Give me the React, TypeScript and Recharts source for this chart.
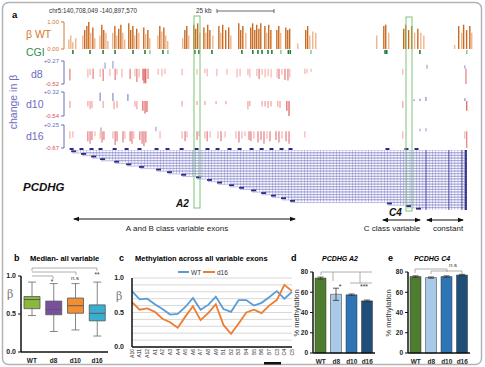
import React from "react";
import {
  BarChart,
  Bar,
  ComposedChart,
  LineChart,
  Line,
  XAxis,
  YAxis,
  CartesianGrid,
  Cell,
  ErrorBar,
  ReferenceLine,
} from "recharts";

const FONT = "'Liberation Sans', Arial, sans-serif";

// ---- panel a: positions in kb from chr5:140,708,049 ----
const wtTrack: [number, number][] = [
  [0.5, 0.35], [1.4, 0.5], [2.3, 0.25], [3.7, 0.4],
  [7.0, 0.5], [7.9, 0.7], [8.9, 0.85], [9.8, 1.0], [10.7, 0.6], [11.7, 0.8], [12.6, 0.4],
  [15.0, 0.5], [15.9, 0.9], [16.8, 0.7], [17.8, 0.6], [18.7, 0.3],
  [21.0, 0.6], [22.0, 0.85], [22.9, 0.5], [23.8, 0.75], [24.8, 0.9], [25.7, 0.6], [26.6, 0.35],
  [28.5, 0.95], [29.4, 0.7], [30.4, 0.85], [31.3, 0.5], [32.2, 0.75], [33.2, 0.6],
  [35.5, 0.8], [36.4, 0.55], [37.4, 0.7], [38.3, 0.4],
  [42.1, 0.5], [43.0, 0.85], [43.9, 0.65], [44.9, 0.8], [45.8, 0.5], [46.7, 0.3],
  [53.7, 0.4], [54.7, 0.7], [55.6, 0.85], [56.5, 0.5],
  [58.9, 0.9], [59.8, 0.75], [60.7, 0.95], [61.7, 0.6],
  [63.6, 0.8], [64.5, 0.6], [65.4, 0.9], [66.4, 0.7], [67.8, 0.5],
  [70.6, 0.85], [71.5, 0.6], [72.4, 0.9], [73.8, 0.7], [75.2, 0.8], [76.2, 0.5],
  [79.9, 0.95], [80.8, 0.7], [81.8, 0.85], [83.2, 0.6],
  [85.5, 0.8], [86.4, 0.95], [87.4, 0.7], [88.3, 0.9], [89.3, 0.75], [90.2, 0.95],
  [92.1, 0.85], [93.0, 0.6], [93.9, 0.9], [94.9, 0.7],
  [97.7, 0.7], [98.6, 0.85], [99.5, 0.6],
  [101.9, 0.8], [102.8, 0.7], [103.7, 0.75],
  [107.5, 0.2],
  [111.2, 0.7], [112.1, 0.85], [113.1, 0.5], [114.5, 0.65], [115.9, 0.6],
  [144.4, 0.5], [147.7, 0.85], [148.6, 0.9], [150.0, 0.6],
  [157.0, 0.75], [157.9, 0.9], [159.3, 0.7], [160.7, 0.85], [162.1, 0.6], [163.6, 0.75], [165.0, 0.6], [166.4, 0.5],
  [180.8, 0.15], [182.7, 0.85], [184.1, 0.6], [185.0, 0.9], [186.4, 0.7], [187.9, 0.85], [188.8, 0.6],
];

// CpG islands: position, 1 = strong
const cgiTrack: [number, number][] = [
  [2.3, 1], [10.3, 1], [16.4, 1], [22.0, 1], [30.4, 1], [36.0, 1], [38.3, 0],
  [44.4, 1], [46.7, 0], [59.3, 1], [61.2, 1], [67.3, 1], [81.3, 1], [86.4, 1],
  [88.8, 1], [90.7, 1], [93.5, 1], [95.3, 1], [99.5, 0], [103.0, 1], [103.9, 1],
  [113.6, 0], [148.2, 1], [149.0, 1], [164.5, 1], [186.4, 0],
];

const d8Track: [number, number][] = [
  [0.9, -0.4], [9.3, -0.3], [10.3, -0.22], [11.7, -0.35], [15.0, -0.28], [16.4, -0.42],
  [17.3, 0.22], [19.6, -0.25], [21.0, 0.27], [22.0, -0.38], [22.9, -0.2], [25.2, -0.3],
  [29.0, -0.35], [31.3, -0.25], [32.2, -0.45], [33.2, -0.3], [35.0, -0.4], [35.5, -0.5],
  [36.0, -0.48], [36.4, -0.5], [37.4, -0.35], [42.1, -0.2], [43.9, -0.25], [45.3, -0.18],
  [53.3, -0.22], [60.3, -0.2], [64.0, -0.15], [65.0, -0.25], [69.6, -0.25], [74.3, -0.2],
  [79.0, -0.3], [80.4, -0.25], [84.1, -0.22], [85.0, -0.3], [88.3, -0.25], [89.3, -0.35],
  [90.7, -0.2], [92.1, -0.3], [93.5, -0.25], [94.9, -0.3], [97.7, -0.3], [98.6, -0.35],
  [100.0, -0.2], [101.4, -0.38], [102.8, -0.4], [103.7, -0.3], [110.7, -0.18], [111.7, -0.15],
  [113.6, -0.1], [156.5, -0.2], [167.8, 0.14], [185.5, 0.12], [186.0, -0.52],
];

const d10Track: [number, number][] = [
  [0.9, -0.25], [9.3, -0.2], [10.3, -0.3], [11.2, -0.25], [15.0, 0.3], [16.4, -0.25],
  [21.0, 0.28], [21.5, -0.3], [22.9, -0.25], [28.0, 0.25], [31.3, -0.2], [32.2, -0.3],
  [35.0, -0.35], [36.0, -0.45], [36.9, -0.4], [53.3, -0.2], [60.3, -0.15], [64.0, -0.15],
  [69.2, -0.12], [73.8, -0.12], [84.1, -0.3], [85.0, -0.18], [90.7, -0.2], [92.1, -0.2],
  [93.5, -0.25], [94.9, -0.2], [98.1, -0.2], [99.1, -0.25], [102.3, -0.35], [103.3, -0.54],
  [156.5, -0.25], [161.7, 0.05], [164.5, 0.08], [167.3, 0.14], [185.5, 0.1], [186.4, -0.35],
];

const d16Track: [number, number][] = [
  [0.9, -0.3], [2.3, -0.25], [9.3, -0.4], [10.3, -0.5], [11.2, -0.35], [12.6, -0.2],
  [15.0, -0.3], [15.4, 0.15], [15.9, -0.45], [16.8, -0.35], [21.0, -0.3], [22.0, -0.55],
  [22.9, -0.4], [25.7, -0.45], [26.6, -0.3], [29.0, -0.4], [29.9, -0.5], [30.8, -0.3],
  [33.6, -0.35], [34.6, -0.5], [35.5, -0.6], [36.4, -0.45], [41.1, 0.18], [43.0, -0.3],
  [53.3, -0.3], [54.7, -0.4], [55.6, -0.25], [60.3, -0.35], [61.2, -0.2], [64.0, -0.3],
  [65.0, -0.4], [66.4, -0.25], [70.1, -0.3], [71.5, -0.4], [73.4, -0.25], [78.5, -0.3],
  [79.9, -0.45], [81.3, -0.3], [82.7, -0.2], [84.6, -0.35], [85.5, -0.4], [86.9, -0.3],
  [88.8, -0.45], [90.2, -0.35], [91.6, -0.5], [93.0, -0.3], [94.4, -0.4], [97.2, -0.35],
  [98.6, -0.45], [100.0, -0.3], [101.9, -0.4], [103.3, -0.5], [110.7, -0.25], [156.5, -0.3],
  [164.5, 0.1], [167.3, 0.12], [185.5, -0.3], [186.4, -0.67],
];

const exonNames = [
  "A1", "A2", "A3", "B1", "A4", "B2", "A5", "A6", "B3", "A7", "B4", "A8",
  "B5", "A9", "B6", "A10", "B7", "A11", "B8", "A12", "C3", "C4", "C5",
];
const exonStarts = [
  1.9, 6.5, 11.2, 15.4, 22.0, 27.6, 33.6, 41.6, 46.7, 53.3, 60.3, 65.4,
  70.1, 75.7, 80.4, 86.0, 90.7, 95.3, 100.0, 104.2, 149.5, 158.4, 163.1,
];
const geneEnd = 186.4;
const constantExons = [167.3, 178.0, 184.1];

// ---- panel b ----
const groups = ["WT", "d8", "d10", "d16"];
const boxMin = [0.48, 0.27, 0.29, 0.21];
const boxQ1 = [0.57, 0.49, 0.51, 0.41];
const boxMed = [0.69, 0.56, 0.61, 0.51];
const boxQ3 = [0.73, 0.67, 0.71, 0.62];
const boxMax = [0.92, 0.9, 0.9, 0.92];
const boxColors = ["#8db83f", "#7a4fa0", "#f28f35", "#3aaed0"];

// ---- panel c ----
const exonLabels = [
  "A10", "A11", "A12", "A1", "A2", "A3", "A4", "A5", "A6", "A7", "A8",
  "A9", "B1", "B2", "B3", "B4", "B5", "B6", "B7", "C3", "C4", "C5",
];
const wtExon = [0.81, 0.69, 0.7, 0.62, 0.55, 0.47, 0.48, 0.58, 0.71, 0.54, 0.61, 0.73, 0.55, 0.51, 0.68, 0.68, 0.6, 0.64, 0.72, 0.81, 0.7, 0.8];
const d16Exon = [0.65, 0.54, 0.56, 0.51, 0.41, 0.36, 0.28, 0.44, 0.59, 0.39, 0.49, 0.62, 0.32, 0.19, 0.34, 0.5, 0.54, 0.49, 0.6, 0.68, 0.9, 0.81];

// ---- panels d, e ----
const a2Mean = [74, 58, 57.5, 51.5];
const a2Err = [1, 6, 0.8, 0.8];
const c4Mean = [75.5, 74.5, 75.5, 77];
const c4Err = [0.7, 0.6, 0.7, 0.7];
const barColors = ["#4f7d2f", "#a9c9e8", "#2f75b5", "#1f4e79"];

const XDOM: [number, number] = [-1.9, 190.2];
const BLUE = "#6c6cbc";
const ORANGE = "#d4792f";
const MESH = "#8484cc";
const EXON = "#2c2c80";

function Track({
  data, top, h, domain, labels, axisColor, colorOf, barSize,
}: {
  data: [number, number][];
  top: number;
  h: number;
  domain: [number, number];
  labels: { text: string; color: string }[];
  axisColor: string;
  colorOf: (v: number) => string;
  barSize: number;
}) {
  const rows = data.map(([pos, v]) => ({ pos, v }));
  return (
    <div style={{ position: "absolute", left: 36, top: top - 4 }}>
      <BarChart width={439} height={h + 8} data={rows} margin={{ top: 4, right: 0, bottom: 4, left: 0 }}>
        <XAxis type="number" dataKey="pos" domain={XDOM} hide allowDataOverflow />
        <YAxis
          width={28}
          domain={domain}
          allowDataOverflow
          ticks={[domain[1], domain[0]]}
          interval={0}
          axisLine={{ stroke: axisColor }}
          tickLine={{ stroke: axisColor }}
          tickSize={3}
          tick={(p: any) => {
            const lab = p.payload.value === domain[1] ? labels[0] : labels[1];
            return (
              <text x={p.x} y={p.y + 2} textAnchor="end" fontSize={6} fill={lab.color} fontFamily={FONT}>
                {lab.text}
              </text>
            );
          }}
        />
        <Bar dataKey="v" barSize={barSize} isAnimationActive={false}>
          {rows.map((r, i) => (
            <Cell key={i} fill={colorOf(r.v)} />
          ))}
        </Bar>
      </BarChart>
    </div>
  );
}

const changeColor = (v: number) => (v > 0 ? BLUE : v < -0.3 ? "#d63434" : "#f08a8a");

function GeneRow(props: any) {
  const { x, y, width, height } = props;
  return (
    <g>
      <rect x={x} y={y} width={width} height={height} fill="url(#mesh)" />
      <line x1={x} x2={x + width} y1={y} y2={y} stroke={MESH} strokeWidth={0.5} />
      <line x1={x} x2={x + width} y1={y + height} y2={y + height} stroke={MESH} strokeWidth={0.5} />
      <rect x={x - 1} y={y + 0.4} width={5} height={1.8} fill={EXON} />
      <rect x={x + width - 2} y={y} width={2} height={height} fill={EXON} />
    </g>
  );
}

function Whisker(props: any, low: boolean) {
  const { x, y, width, height } = props;
  const cx = x + width / 2;
  const cap = low ? y + height : y;
  return (
    <g stroke="#666" strokeWidth={0.8}>
      <line x1={cx} x2={cx} y1={y} y2={y + height} />
      <line x1={cx - 4} x2={cx + 4} y1={cap} y2={cap} />
    </g>
  );
}

const boldTick = { fontSize: 6.5, fill: "#222", fontWeight: 700, fontFamily: FONT };

function MethBars({ left, mean, err }: { left: number; mean: number[]; err: number[] }) {
  const rows = groups.map((g, i) => ({ g, m: mean[i], e: err[i] }));
  return (
    <div style={{ position: "absolute", left, top: 266 }}>
      <BarChart width={82} height={101} data={rows} margin={{ top: 6, right: 0, bottom: 0, left: 0 }}>
        <XAxis dataKey="g" height={14} tick={boldTick} tickLine={false} tickSize={4} axisLine={{ stroke: "#111", strokeWidth: 1.5 }} interval={0} />
        <YAxis width={20} domain={[0, 80]} ticks={[0, 20, 40, 60, 80]} interval={0} tick={boldTick} tickSize={3} tickLine={{ stroke: "#111" }} axisLine={{ stroke: "#111", strokeWidth: 1.5 }} />
        <Bar dataKey="m" barSize={11} stroke="#333" strokeWidth={0.5} isAnimationActive={false}>
          {rows.map((r, i) => (
            <Cell key={i} fill={barColors[i]} />
          ))}
          <ErrorBar dataKey="e" width={3} stroke="#333" strokeWidth={0.8} direction="y" />
        </Bar>
      </BarChart>
    </div>
  );
}

export default function App() {
  const geneRows = exonNames.map((name, i) => ({ name, span: [exonStarts[i], geneEnd] }));
  const exonMarks = exonStarts.map((pos) => ({ pos, v: 1 }));
  const cgiRows = cgiTrack.map(([pos, s]) => ({ pos, v: 1, s }));
  const boxRows = groups.map((g, i) => ({
    g,
    base: boxMin[i],
    lo: boxQ1[i] - boxMin[i],
    b1: boxMed[i] - boxQ1[i],
    b2: boxQ3[i] - boxMed[i],
    hi: boxMax[i] - boxQ3[i],
  }));
  const lineRows = exonLabels.map((e, i) => ({ e, wt: wtExon[i], d16: d16Exon[i] }));

  return (
    <div style={{ position: "fixed", left: 0, top: 0, width: 485, height: 367, background: "#fff", overflow: "hidden", fontFamily: FONT }}>
      <svg width={0} height={0} style={{ position: "absolute" }}>
        <defs>
          <pattern id="mesh" patternUnits="userSpaceOnUse" width={3.2} height={10}>
            <line x1={0.3} y1={0} x2={0.3} y2={10} stroke={MESH} strokeWidth={0.5} />
          </pattern>
        </defs>
      </svg>

      {/* panel a tracks */}
      <Track
        data={wtTrack}
        top={22}
        h={27}
        domain={[0, 1]}
        labels={[{ text: "1.00", color: ORANGE }, { text: "0.00", color: ORANGE }]}
        axisColor={ORANGE}
        colorOf={(v) => (v >= 0.7 ? "#c96a22" : "#f0b48a")}
        barSize={1.4}
      />
      <div style={{ position: "absolute", left: 64, top: 50 }}>
        <BarChart width={411} height={4} data={cgiRows} margin={{ top: 0, right: 0, bottom: 0, left: 0 }}>
          <XAxis type="number" dataKey="pos" domain={XDOM} hide allowDataOverflow />
          <YAxis domain={[0, 1]} hide />
          <Bar dataKey="v" barSize={2.2} isAnimationActive={false}>
            {cgiRows.map((r, i) => (
              <Cell key={i} fill={r.s ? "#1d7a3e" : "#8cc99a"} />
            ))}
          </Bar>
        </BarChart>
      </div>
      <Track
        data={d8Track}
        top={61}
        h={23}
        domain={[-0.52, 0.27]}
        labels={[{ text: "+0.27", color: BLUE }, { text: "-0.52", color: "#d85050" }]}
        axisColor={BLUE}
        colorOf={changeColor}
        barSize={1.4}
      />
      <Track
        data={d10Track}
        top={92}
        h={24}
        domain={[-0.54, 0.32]}
        labels={[{ text: "+0.32", color: BLUE }, { text: "-0.54", color: "#d85050" }]}
        axisColor={BLUE}
        colorOf={changeColor}
        barSize={1.4}
      />
      <Track
        data={d16Track}
        top={125}
        h={23}
        domain={[-0.67, 0.25]}
        labels={[{ text: "+0.25", color: BLUE }, { text: "-0.67", color: "#d85050" }]}
        axisColor={BLUE}
        colorOf={changeColor}
        barSize={1.4}
      />

      {/* gene model */}
      <div style={{ position: "absolute", left: 64, top: 150 }}>
        <ComposedChart layout="vertical" width={411} height={60} data={geneRows} margin={{ top: 0, right: 0, bottom: 0, left: 0 }} barCategoryGap={0}>
          <XAxis type="number" domain={XDOM} hide allowDataOverflow />
          <YAxis type="category" dataKey="name" hide />
          <Bar dataKey="span" isAnimationActive={false} shape={GeneRow} />
          {constantExons.map((c) => (
            <ReferenceLine key={c} x={c} stroke="#3a3a90" strokeWidth={0.8} />
          ))}
        </ComposedChart>
      </div>
      <div style={{ position: "absolute", left: 64, top: 148 }}>
        <BarChart width={411} height={2} data={exonMarks} margin={{ top: 0, right: 0, bottom: 0, left: 0 }}>
          <XAxis type="number" dataKey="pos" domain={XDOM} hide allowDataOverflow />
          <YAxis domain={[0, 1]} hide />
          <Bar dataKey="v" barSize={4} fill={EXON} isAnimationActive={false} />
        </BarChart>
      </div>

      {/* panel b */}
      <div style={{ position: "absolute", left: 0, top: 266 }}>
        <ComposedChart width={110} height={100} data={boxRows} margin={{ top: 10, right: 2, bottom: 0, left: 0 }}>
          <XAxis dataKey="g" height={14} tick={boldTick} tickLine={false} tickSize={4} axisLine={{ stroke: "#111", strokeWidth: 1.5 }} interval={0} />
          <YAxis width={21} domain={[0, 1]} ticks={[0, 0.5, 1]} interval={0} tickFormatter={(v: number) => v.toFixed(1)} tick={{ ...boldTick, fontSize: 7 }} tickSize={3} tickLine={{ stroke: "#111" }} axisLine={{ stroke: "#111", strokeWidth: 1.5 }} />
          <Bar stackId="b" dataKey="base" fill="none" barSize={16} isAnimationActive={false} />
          <Bar stackId="b" dataKey="lo" barSize={16} isAnimationActive={false} shape={(p: any) => Whisker(p, true)} />
          <Bar stackId="b" dataKey="b1" barSize={16} stroke="#555" strokeWidth={0.8} isAnimationActive={false}>
            {boxRows.map((r, i) => (
              <Cell key={i} fill={boxColors[i]} />
            ))}
          </Bar>
          <Bar stackId="b" dataKey="b2" barSize={16} stroke="#555" strokeWidth={0.8} isAnimationActive={false}>
            {boxRows.map((r, i) => (
              <Cell key={i} fill={boxColors[i]} />
            ))}
          </Bar>
          <Bar stackId="b" dataKey="hi" barSize={16} isAnimationActive={false} shape={(p: any) => Whisker(p, false)} />
        </ComposedChart>
      </div>

      {/* panel c */}
      <div style={{ position: "absolute", left: 99, top: 274 }}>
        <LineChart width={197} height={92} data={lineRows} margin={{ top: 4, right: 4, bottom: 0, left: 0 }}>
          <CartesianGrid vertical={false} stroke="#d8d8d8" />
          <XAxis
            dataKey="e"
            height={19}
            interval={0}
            tickLine={false}
            tickSize={0}
            tickMargin={2}
            axisLine={{ stroke: "#111", strokeWidth: 1.5 }}
            tick={(p: any) => (
              <g transform={`translate(${p.x},${p.y})`}>
                <text transform="rotate(-90)" x={0} y={1.8} textAnchor="end" fontSize={5} fill="#222" fontFamily={FONT}>
                  {p.payload.value}
                </text>
              </g>
            )}
          />
          <YAxis
            width={33}
            domain={[0, 1]}
            ticks={[0, 0.1, 0.2, 0.3, 0.4, 0.5, 0.6, 0.7, 0.8, 0.9, 1]}
            interval={0}
            tickLine={false}
            tickFormatter={(v: number) => (v === 0 || v === 0.5 || v === 1 ? v.toFixed(1) : "")}
            tick={{ ...boldTick, fontSize: 7 }}
            axisLine={{ stroke: "#111", strokeWidth: 1.5 }}
          />
          <Line dataKey="wt" stroke="#5b9bd5" strokeWidth={1.8} dot={false} isAnimationActive={false} />
          <Line dataKey="d16" stroke="#ed7d31" strokeWidth={1.8} dot={false} isAnimationActive={false} />
        </LineChart>
      </div>

      {/* panels d, e */}
      <MethBars left={293} mean={a2Mean} err={a2Err} />
      <MethBars left={388} mean={c4Mean} err={c4Err} />

      {/* labels and annotations */}
      <svg width={485} height={367} style={{ position: "absolute", left: 0, top: 0, pointerEvents: "none" }} fontFamily={FONT}>
        <defs>
          <marker id="arr" markerWidth={6} markerHeight={6} refX={5} refY={3} orient="auto-start-reverse">
            <path d="M0,0.8 L6,3 L0,5.2 z" fill="#111" />
          </marker>
        </defs>
        <rect x={2.5} y={2.5} width={479} height={362} rx={6} fill="none" stroke="#b3b3b3" strokeWidth={1.5} />

        <text x={12} y={18} fontSize={9.5} fontWeight={700}>a</text>
        <text x={49} y={13} fontSize={6.3} fill="#333">chr5:140,708,049 -140,897,570</text>
        <text x={196} y={13} fontSize={6.3} fill="#333">25 kb</text>
        <g stroke="#444" strokeWidth={0.8}>
          <line x1={217} x2={274} y1={11} y2={11} />
          <line x1={217} x2={217} y1={9} y2={13} />
          <line x1={274} x2={274} y1={9} y2={13} />
        </g>
        <text x={26} y={38} fontSize={10.5} fill={ORANGE}>β WT</text>
        <text x={26} y={56} fontSize={10.5} fill="#2e8b4e">CGI</text>
        <text x={31} y={78} fontSize={10.5} fill={BLUE}>d8</text>
        <text x={26} y={108} fontSize={10.5} fill={BLUE}>d10</text>
        <text x={26} y={140} fontSize={10.5} fill={BLUE}>d16</text>
        <text transform="translate(17,102) rotate(-90)" textAnchor="middle" fontSize={10.5} fill={BLUE}>change in β</text>
        <text x={23} y={191} fontSize={11.5} fontWeight={700} fontStyle="italic" fill="#111">PCDHG</text>
        <text x={176} y={207} fontSize={10} fontWeight={700} fontStyle="italic" fill="#111">A2</text>
        <text x={389} y={216} fontSize={10} fontWeight={700} fontStyle="italic" fill="#111">C4</text>
        <rect x={194} y={16} width={6} height={192} fill="none" stroke="#7cc472" strokeWidth={1} />
        <rect x={406} y={17} width={6} height={194} fill="none" stroke="#7cc472" strokeWidth={1} />
        <g stroke="#111" strokeWidth={1}>
          <line x1={74} x2={295} y1={219} y2={219} markerStart="url(#arr)" markerEnd="url(#arr)" />
          <line x1={383} x2={420} y1={220} y2={220} markerStart="url(#arr)" markerEnd="url(#arr)" />
          <line x1={427} x2={463} y1={220} y2={220} markerStart="url(#arr)" markerEnd="url(#arr)" />
        </g>
        <text x={177} y={231} fontSize={8} textAnchor="middle" fill="#222">A and B class variable exons</text>
        <text x={392} y={231} fontSize={8} textAnchor="middle" fill="#222">C class variable</text>
        <text x={448} y={231} fontSize={8} textAnchor="middle" fill="#222">constant</text>

        {/* b */}
        <text x={14} y={261} fontSize={9} fontWeight={700}>b</text>
        <text x={30} y={261} fontSize={7.5} fontWeight={700}>Median- all variable</text>
        <text x={7} y={298} fontSize={11} fill="#777" fontFamily="'DejaVu Serif', serif">β</text>
        <g stroke="#999" strokeWidth={0.8} fill="none">
          <polyline points="32,271 32,268 97,268 97,271" />
          <polyline points="32,272 76,272 76,275" />
          <polyline points="32,276 53,276 53,279" />
        </g>
        <text x={97} y={277} fontSize={6.5} textAnchor="middle" fill="#333">**</text>
        <text x={75} y={280} fontSize={6} textAnchor="middle" fill="#333">n.s</text>
        <text x={52} y={284} fontSize={6.5} textAnchor="middle" fill="#333">*</text>

        {/* c */}
        <text x={119} y={261} fontSize={9} fontWeight={700}>c</text>
        <text x={135} y={261} fontSize={7.5} fontWeight={700}>Methylation across all variable exons</text>
        <line x1={178} x2={189} y1={272} y2={272} stroke="#5b9bd5" strokeWidth={2} />
        <text x={191} y={274.5} fontSize={6.5} fill="#333">WT</text>
        <line x1={203} x2={215} y1={272} y2={272} stroke="#ed7d31" strokeWidth={2} />
        <text x={217} y={274.5} fontSize={6.5} fill="#333">d16</text>
        <text x={116} y={300} fontSize={11} fill="#777" fontFamily="'DejaVu Serif', serif">β</text>
        <rect x={264} y={362} width={17} height={2.5} fill="#111" />

        {/* d */}
        <text x={291} y={261} fontSize={9} fontWeight={700}>d</text>
        <text x={340} y={261} fontSize={7} fontWeight={700} fontStyle="italic" textAnchor="middle">PCDHG A2</text>
        <text transform="translate(299,313) rotate(-90)" textAnchor="middle" fontSize={7.5} fill="#333">% methylation</text>
        <g stroke="#999" strokeWidth={0.8} fill="none">
          <polyline points="321,275 321,272 372,272" />
          <line x1={333} x2={333} y1={272} y2={281} />
          <polyline points="350,283 372,283" />
          <line x1={360} x2={360} y1={272} y2={283} />
        </g>
        <text x={340} y={289} fontSize={7} textAnchor="middle" fill="#333">*</text>
        <text x={364} y={289} fontSize={7} textAnchor="middle" fill="#333">***</text>

        {/* e */}
        <text x={388} y={261} fontSize={9} fontWeight={700}>e</text>
        <text x={432} y={261} fontSize={7} fontWeight={700} fontStyle="italic" textAnchor="middle">PCDHG C4</text>
        <text transform="translate(391,313) rotate(-90)" textAnchor="middle" fontSize={7.5} fill="#333">% methylation</text>
        <g stroke="#999" strokeWidth={0.8} fill="none">
          <polyline points="415,273 415,269 447,269 447,272" />
          <polyline points="431,274 431,271 462,271 462,274" />
        </g>
        <text x={453} y={267} fontSize={6} textAnchor="middle" fill="#333">n.s</text>
      </svg>
    </div>
  );
}
